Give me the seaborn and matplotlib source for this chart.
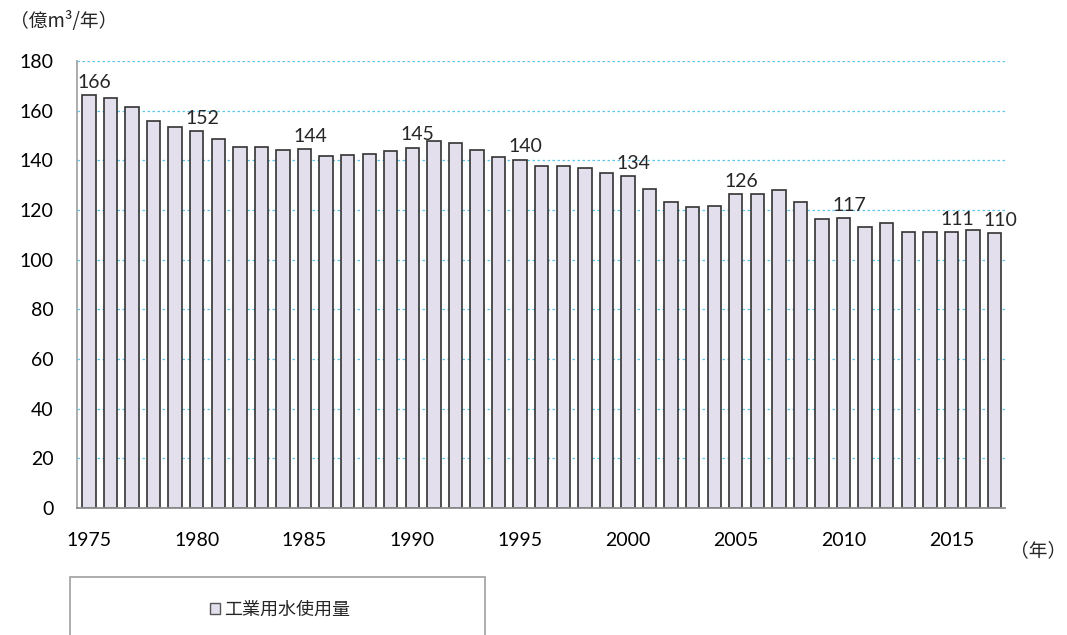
import matplotlib
matplotlib.use("Agg")
import matplotlib.pyplot as plt
from matplotlib.patches import Rectangle, Patch
import seaborn as sns
import pandas as pd

# 工業用水使用量 (億m3/年), 1975-2017
years = list(range(1975, 2018))
usage = [166.4, 165.2, 161.6, 156.0, 153.3, 151.6, 148.5, 145.5, 145.4, 144.2,
         144.5, 141.6, 142.2, 142.6, 143.9, 145.1, 147.8, 147.1, 144.1, 141.2,
         140.3, 137.9, 137.7, 136.9, 134.8, 133.8, 128.6, 123.4, 121.3, 121.5,
         126.3, 126.3, 127.9, 123.1, 116.3, 116.8, 113.0, 114.9, 111.0, 111.0,
         111.2, 112.0, 110.6]
label_years = [1975, 1980, 1985, 1990, 1995, 2000, 2005, 2010, 2015, 2017]
label_texts = ["166", "152", "144", "145", "140", "134", "126", "117", "111", "110"]
tick_years = [1975, 1980, 1985, 1990, 1995, 2000, 2005, 2010, 2015]
series_name = "工業用水使用量"

df = pd.DataFrame({"year": years, "usage": usage})

sns.set_style("white")
plt.rcParams["font.family"] = ["Lato", "Noto Sans CJK JP", "DejaVu Sans"]

fig = plt.figure(figsize=(10.67, 6.35), dpi=100)
ax = fig.add_axes([0.0722, 0.2, 0.870, 0.704])

bar_color = "#E4DFEC"
sns.barplot(data=df, x="year", y="usage", order=years, color=bar_color,
            edgecolor="#333333", linewidth=1.2, width=0.62, saturation=1, ax=ax)

ax.set_ylim(0, 180)
ax.set_xlim(-0.55, len(years) - 0.5)
ax.set_yticks(range(0, 181, 20))
ax.yaxis.grid(True, color="#5CC6EE", linestyle=(0, (2, 2)), linewidth=0.9)
ax.set_axisbelow(True)

# x labels every 5 years, boundary tick marks inside
pos = {y: i for i, y in enumerate(years)}
ax.set_xticks([pos[y] for y in tick_years])
ax.set_xticklabels([str(y) for y in tick_years])
ax.set_xticks([i - 0.5 for i in range(len(years) + 1)], minor=True)
ax.tick_params(axis="x", which="major", length=0, pad=17, labelsize=14, colors="black")
ax.tick_params(axis="x", which="minor", direction="in", length=5, width=1.2, color="#A0A0A0")
ax.tick_params(axis="y", which="major", direction="out", length=5, width=1.2,
               color="#A6A6A6", pad=12, labelsize=14, labelcolor="black")
ax.set_xlabel("")
ax.set_ylabel("")

for side in ["top", "right"]:
    ax.spines[side].set_visible(False)
ax.spines["left"].set_color("#A6A6A6")
ax.spines["left"].set_linewidth(1.3)
ax.spines["bottom"].set_color("#8C8C8C")
ax.spines["bottom"].set_linewidth(1.3)

for y, t in zip(label_years, label_texts):
    ax.annotate(t, (pos[y], usage[pos[y]]), xytext=(4, 3), textcoords="offset points",
                ha="center", va="bottom", fontsize=14)

fig.text(10 / 1067, 1 - 22 / 635, "（億m³/年）", fontsize=13.5, va="center", ha="left",
         family=["Noto Sans CJK JP", "DejaVu Sans"])
fig.text(1066 / 1067, 1 - 551 / 635, "（年）", fontsize=13.5, va="center", ha="right",
         family=["Noto Sans CJK JP"])

# legend box (cut off at bottom, as in the original)
fig.add_artist(Rectangle((70 / 1067, -0.05), 415 / 1067, (635 - 577) / 635 + 0.05,
                         transform=fig.transFigure, facecolor="none",
                         edgecolor="#A0A0A0", linewidth=1.2, clip_on=False))
handle = Patch(facecolor=bar_color, edgecolor="#555555", linewidth=1.0)
fig.legend([handle], [series_name], loc="center", bbox_to_anchor=(280 / 1067, 1 - 610 / 635),
           frameon=False, handlelength=0.55, handleheight=0.55, handletextpad=0.2,
           prop={"family": "Noto Sans CJK JP", "size": 13})

fig.savefig("out.png", dpi=100)
